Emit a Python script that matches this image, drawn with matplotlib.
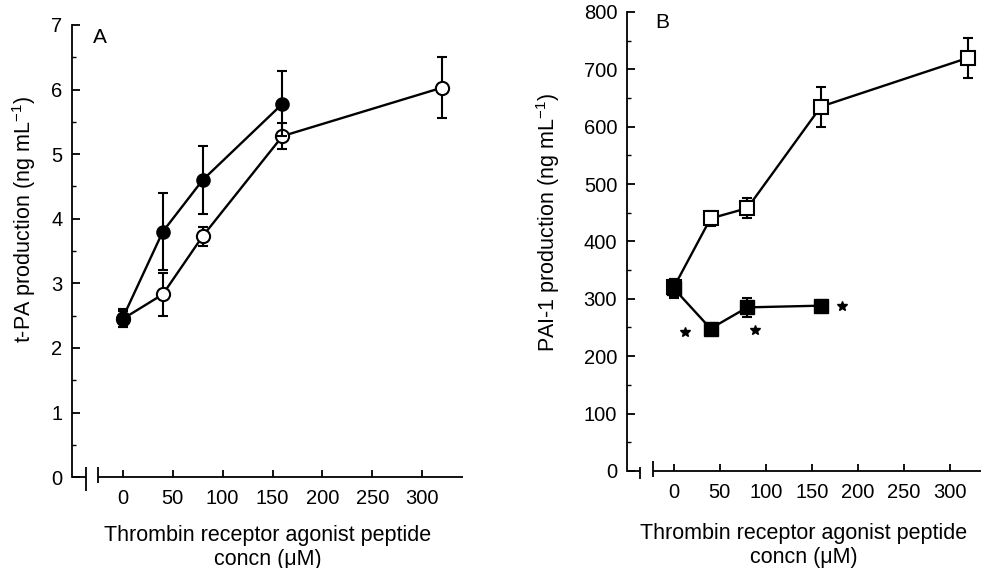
#!/usr/bin/env python3
"""t-PA (A) and PAI-1 (B) production vs thrombin receptor agonist peptide concn."""

import matplotlib

matplotlib.use("Agg")
import matplotlib.pyplot as plt
import matplotlib.transforms as mtransforms
from matplotlib.ticker import MultipleLocator

plt.rcParams["font.family"] = ["Liberation Sans", "DejaVu Sans"]
plt.rcParams["mathtext.default"] = "regular"

# panel A: t-PA (ng/mL)
conc_a_open = [0, 40, 80, 160, 320]
tpa_open = [2.45, 2.83, 3.73, 5.28, 6.03]
tpa_open_err = [0.12, 0.33, 0.15, 0.20, 0.47]
conc_a_filled = [0, 40, 80, 160]
tpa_filled = [2.47, 3.80, 4.60, 5.78]
tpa_filled_err = [0.14, 0.60, 0.53, 0.50]

# panel B: PAI-1 (ng/mL)
conc_b_open = [0, 40, 80, 160, 320]
pai_open = [320, 440, 458, 635, 720]
pai_open_err = [15, 13, 18, 35, 35]
conc_b_filled = [0, 40, 80, 160]
pai_filled = [318, 248, 285, 288]
pai_filled_err = [17, 8, 17, 8]
star_x = [12, 88, 183]
star_y = [242, 245, 287]

x_ticks = [0, 50, 100, 150, 200, 250, 300]
xlabel = "Thrombin receptor agonist peptide\nconcn (\u03bcM)"

LW = 1.7
EB = dict(ecolor="black", elinewidth=1.5, capsize=3.5, capthick=1.5)
TICK_FS = 14.5
LABEL_FS = 15.5


def style_axis(ax, xlim, ylim, ymajor, yminor, brk, bar1, bar2):
    ax.set_xlim(*xlim)
    ax.set_ylim(*ylim)
    for side in ("top", "right", "bottom"):
        ax.spines[side].set_visible(False)
    ax.spines["left"].set_linewidth(1.3)
    ax.set_xticks(x_ticks)
    ax.yaxis.set_major_locator(MultipleLocator(ymajor))
    ax.yaxis.set_minor_locator(MultipleLocator(yminor))
    ax.tick_params(axis="x", direction="in", length=5, width=1.3, pad=8.5, labelsize=TICK_FS)
    ax.tick_params(axis="y", which="major", direction="in", length=6, width=1.3, pad=7,
                   labelsize=TICK_FS)
    ax.tick_params(axis="y", which="minor", direction="in", length=3, width=1.0)

    # broken x axis
    tr = mtransforms.blended_transform_factory(ax.transData, ax.transAxes)
    kw = dict(color="black", lw=1.3, transform=tr, clip_on=False, solid_capstyle="butt")
    ax.plot([xlim[0], brk[0]], [0, 0], **kw)
    ax.plot([brk[1], xlim[1]], [0, 0], **kw)
    ax.plot([brk[0], brk[0]], bar1, **kw)
    ax.plot([brk[1], brk[1]], bar2, **kw)


fig = plt.figure(figsize=(9.81, 5.68), dpi=100)
ax_a = fig.add_axes([0.0734, 0.160, 0.3986, 0.796])
ax_b = fig.add_axes([0.639, 0.171, 0.361, 0.808])

# ---- A ----
ax_a.errorbar(conc_a_open, tpa_open, yerr=tpa_open_err, color="black", lw=LW,
              marker="o", ms=9.5, mfc="white", mec="black", mew=1.5, **EB, zorder=3)
ax_a.errorbar(conc_a_filled, tpa_filled, yerr=tpa_filled_err, color="black", lw=LW,
              marker="o", ms=9.5, mfc="black", mec="black", **EB, zorder=4)
style_axis(ax_a, (-51, 341), (0, 7), 1, 0.5, (-37, -25), (-0.03, 0.022), (-0.012, 0.022))
ax_a.set_ylabel("t-PA production (ng mL$^{-1}$)", fontsize=LABEL_FS)
ax_a.yaxis.set_label_coords(-0.087, 0.57)
ax_a.set_xlabel(xlabel, fontsize=LABEL_FS, linespacing=1.2, labelpad=12)
ax_a.text(0.072, 0.973, "A", transform=ax_a.transAxes, fontsize=15,
          va="center", ha="center")

# ---- B ----
ax_b.errorbar(conc_b_open, pai_open, yerr=pai_open_err, color="black", lw=LW,
              marker="s", ms=10, mfc="white", mec="black", mew=1.5, **EB, zorder=3)
ax_b.errorbar(conc_b_filled, pai_filled, yerr=pai_filled_err, color="black", lw=LW,
              marker="s", ms=10, mfc="black", mec="black", **EB, zorder=4)
ax_b.plot(star_x, star_y, ls="none", marker="*", ms=7, color="black", zorder=5)
style_axis(ax_b, (-51, 334), (0, 800), 100, 50, (-37, -23), (-0.018, 0.009), (-0.013, 0.022))
ax_b.set_ylabel("PAI-1 production (ng mL$^{-1}$)", fontsize=LABEL_FS)
ax_b.yaxis.set_label_coords(-0.184, 0.54)
ax_b.set_xlabel(xlabel, fontsize=LABEL_FS, linespacing=1.2, labelpad=15)
ax_b.text(0.10, 0.976, "B", transform=ax_b.transAxes, fontsize=15,
          va="center", ha="center")

fig.savefig("out.png", dpi=100)
plt.close(fig)
